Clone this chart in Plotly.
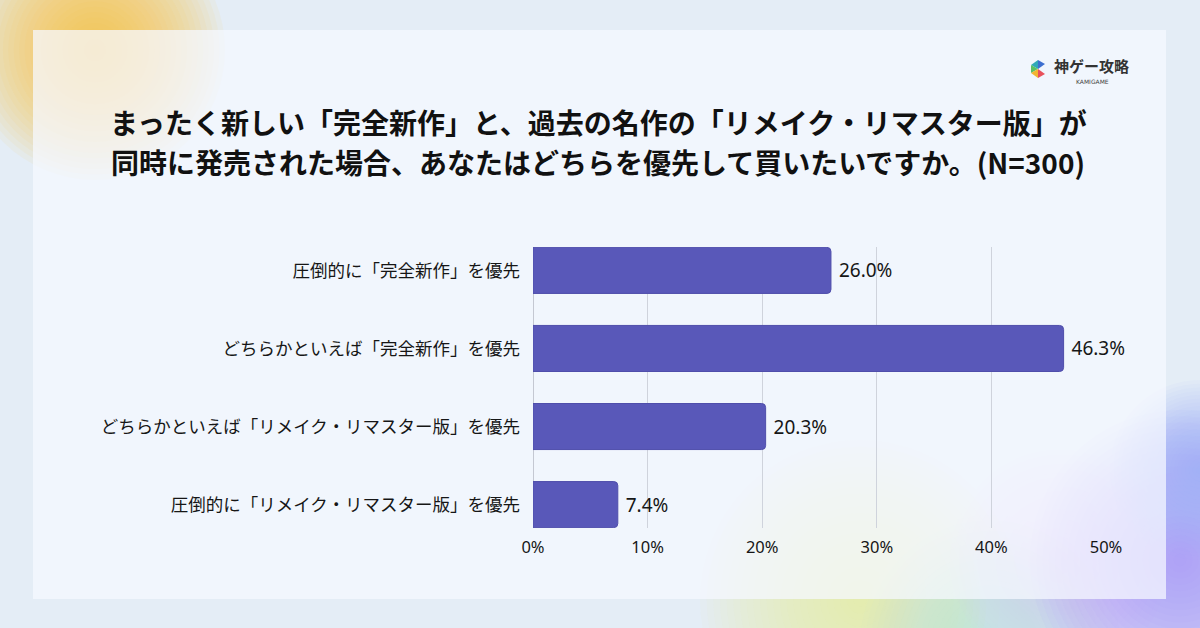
import plotly.graph_objects as go

W, H = 1200, 628

# ---------------- data ----------------
categories = [
    "圧倒的に「完全新作」を優先",
    "どちらかといえば「完全新作」を優先",
    "どちらかといえば「リメイク・リマスター版」を優先",
    "圧倒的に「リメイク・リマスター版」を優先",
]
values = [26.0, 46.3, 20.3, 7.4]
tick_values = [0, 10, 20, 30, 40, 50]
tick_labels = ["0%", "10%", "20%", "30%", "40%", "50%"]
title_line1 = "まったく新しい「完全新作」と、過去の名作の「リメイク・リマスター版」が"
title_line2 = "同時に発売された場合、あなたはどちらを優先して買いたいですか。(N=300)"
brand_name = "神ゲー攻略"
brand_sub = "KAMIGAME"


def px(x):
    return x / W


def py(y):
    return 1 - y / H


JP = "Noto Sans CJK JP"

fig = go.Figure(
    go.Bar(
        x=values,
        y=categories,
        orientation="h",
        width=0.59,
        marker=dict(color="#5958b9", line=dict(color="#4f4eab", width=1)),
        marker_cornerradius=4,
        text=[f" {v:.1f}%" for v in values],
        textposition="outside",
        textfont=dict(size=19, color="#161616", family="Noto Sans"),
        cliponaxis=False,
        hoverinfo="skip",
    )
)

shapes = []


def blob(cx, cy, r, rgb, n=24, alpha=0.06):
    for i in range(n):
        rr = r * (1 - i / n)
        shapes.append(dict(
            type="circle", xref="paper", yref="paper", layer="below",
            x0=px(cx - rr), x1=px(cx + rr), y0=py(cy + rr), y1=py(cy - rr),
            fillcolor=f"rgba({rgb},{alpha})", line=dict(width=0),
        ))


# background blobs
blob(95, 50, 130, "255,190,60", alpha=0.065)
blob(860, 600, 160, "232,245,165", alpha=0.05)
blob(990, 645, 130, "180,240,240", alpha=0.04)
blob(1060, 560, 110, "230,200,250", alpha=0.035)
blob(1180, 560, 150, "160,145,250", alpha=0.055)
blob(1200, 470, 90, "150,170,250", alpha=0.05)

# card
shapes.append(dict(
    type="rect", xref="paper", yref="paper", layer="below",
    x0=px(33), x1=px(1166), y0=py(599), y1=py(30),
    fillcolor="rgba(246,248,255,0.74)", line=dict(width=0),
))

# logo icon (stylised), in pixel coordinates
logo_parts = [
    ([(1031, 65), (1038, 60), (1038, 69)], "#2fa9b8"),
    ([(1038, 60), (1045, 64), (1038, 69)], "#3d6fd0"),
    ([(1031, 65), (1038, 69), (1031, 73)], "#5bbf63"),
    ([(1031, 73), (1038, 69), (1038, 78)], "#f2b531"),
    ([(1038, 78), (1045, 74), (1038, 69)], "#e8505b"),
]
for pts, col in logo_parts:
    path = "M " + " L ".join(f"{px(x):.5f},{py(y):.5f}" for x, y in pts) + " Z"
    shapes.append(dict(type="path", xref="paper", yref="paper", layer="above",
                       path=path, fillcolor=col, line=dict(width=0)))

annotations = [
    dict(text=title_line1, x=px(598), y=py(122), xref="paper", yref="paper",
         showarrow=False, xanchor="center", yanchor="middle",
         font=dict(family=JP, size=28, color="#111111", weight="bold")),
    dict(text=title_line2, x=px(598), y=py(162), xref="paper", yref="paper",
         showarrow=False, xanchor="center", yanchor="middle",
         font=dict(family=JP, size=28, color="#111111", weight="bold")),
    dict(text=brand_name, x=px(1052), y=py(66), xref="paper", yref="paper",
         showarrow=False, xanchor="left", yanchor="middle",
         font=dict(family=JP, size=15, color="#333333", weight="bold")),
    dict(text=brand_sub, x=px(1092), y=py(82), xref="paper", yref="paper",
         showarrow=False, xanchor="center", yanchor="middle",
         font=dict(family="DejaVu Sans", size=6, color="#444444")),
]

fig.update_layout(
    width=W, height=H,
    autosize=False,
    margin=dict(l=0, r=0, t=0, b=0, pad=0),
    paper_bgcolor="#e4edf6",
    plot_bgcolor="rgba(0,0,0,0)",
    showlegend=False,
    shapes=shapes,
    annotations=annotations,
    xaxis=dict(
        domain=[px(533), px(1106)],
        range=[0, 50],
        tickvals=tick_values,
        ticktext=tick_labels,
        showgrid=True, gridcolor="#cfd3dc", gridwidth=1,
        zeroline=True, zerolinecolor="#c4c8d2", zerolinewidth=1,
        showline=False, ticks="",
        automargin=False,
        ticklabelstandoff=7,
        tickfont=dict(family="Noto Sans", size=16.5, color="#161616"),
        fixedrange=True,
    ),
    yaxis=dict(
        domain=[py(528), py(247)],
        type="category",
        categoryorder="array", categoryarray=categories,
        range=[3.3, -0.3],
        showgrid=False, zeroline=False, showline=False, ticks="",
        automargin=False,
        ticklabelstandoff=12,
        tickfont=dict(family=JP, size=17.5, color="#161616"),
        fixedrange=True,
    ),
)

fig.write_html("out.html", config={"responsive": False, "displayModeBar": False})
